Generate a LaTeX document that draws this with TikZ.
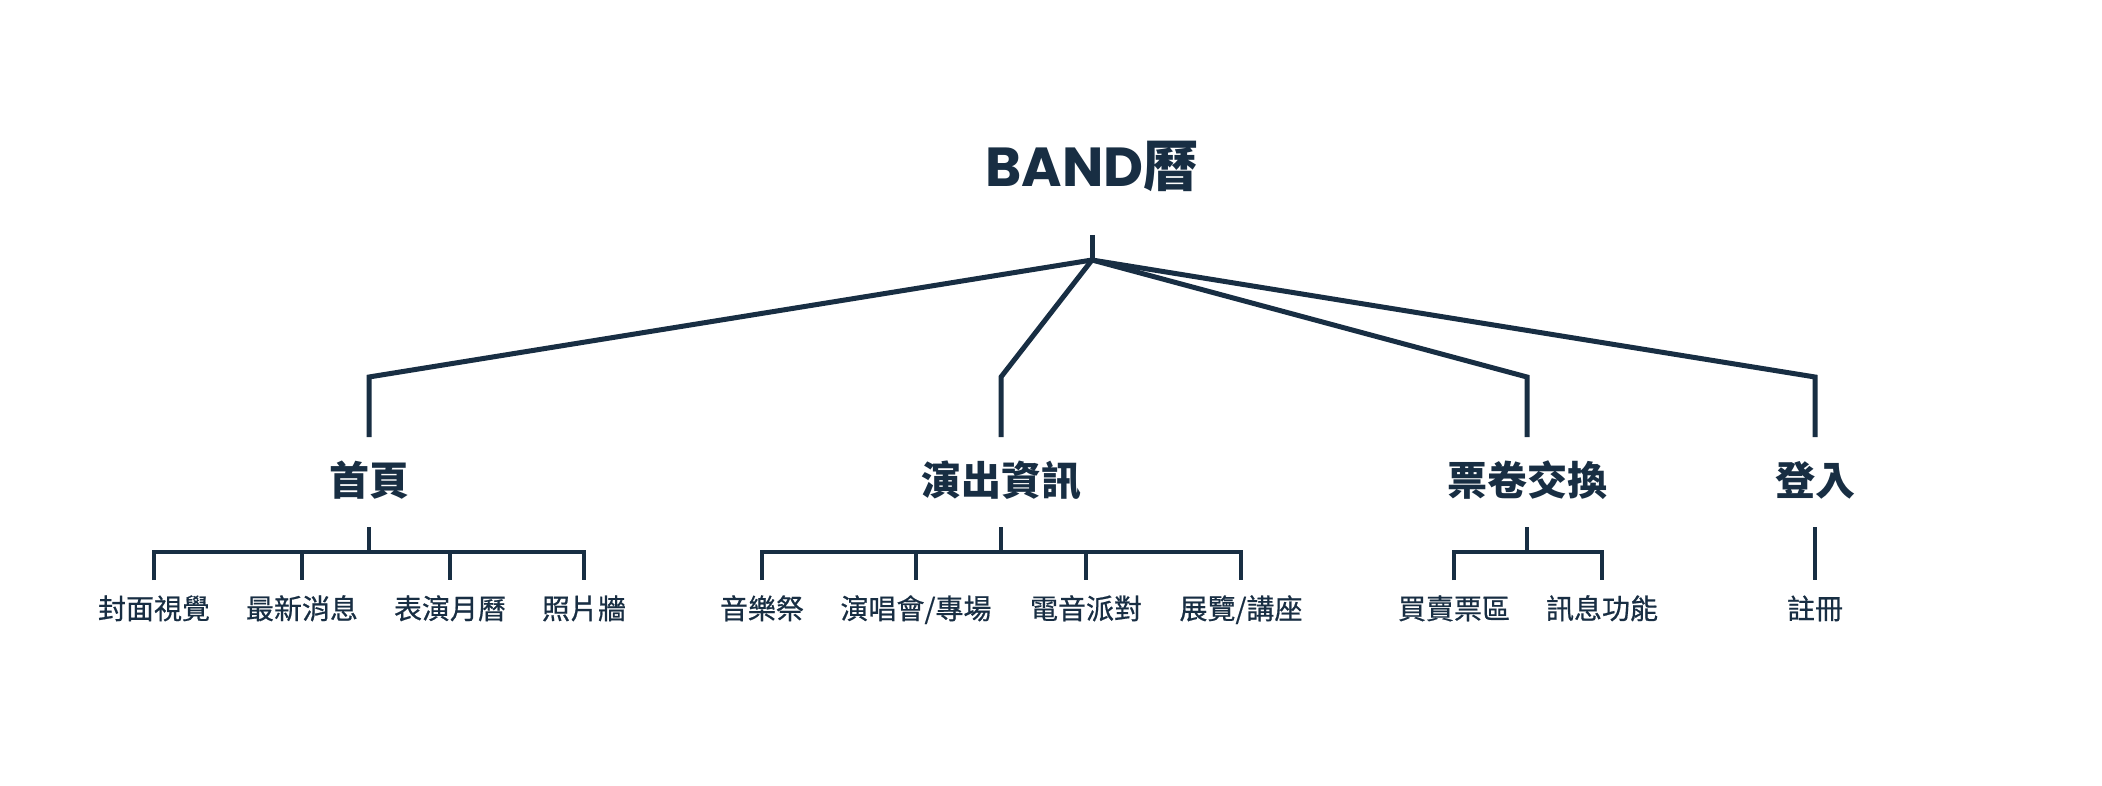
\documentclass[tikz,border=0pt]{standalone}
\usepackage{fontspec}
\setmainfont{Noto Sans CJK TC}
\newfontfamily\pop{Poppins}
\newfontfamily\leaffont[FakeBold=0.6]{Noto Sans CJK TC}
\definecolor{navy}{HTML}{182E43}
\begin{document}
\begin{tikzpicture}[x=1pt,y=-1pt,
  conn/.style={draw=navy, line width=5pt, line join=miter},
  subconn/.style={draw=navy, line width=4.3pt, line join=miter},
  titletext/.style={font=\fontsize{55}{60}\selectfont\bfseries, text=navy, inner sep=0pt, anchor=base},
  secttext/.style={font=\fontsize{40}{44}\selectfont\bfseries, text=navy, inner sep=0pt, anchor=base},
  leaftext/.style={font=\leaffont\fontsize{28}{32}\selectfont, text=navy, inner sep=0pt, anchor=base}]
\fill[white] (0,0) rectangle (2102,786);
\useasboundingbox (0,0) rectangle (2102,786);

% root
\node[titletext] (root) at (1092,187) {{\pop BAND}曆};
\coordinate (rs) at (1092,235);
\coordinate (apex) at (1092,260);

% sections
\node[secttext] (home) at (369,495) {首頁};
\node[secttext] (show) at (1001,495) {演出資訊};
\node[secttext] (ticket) at (1527,495) {票卷交換};
\node[secttext] (login) at (1815,495) {登入};

\coordinate (homeC) at (369,377);   \coordinate (homeB) at (369,437);
\coordinate (showC) at (1001,377);  \coordinate (showB) at (1001,437);
\coordinate (ticketC) at (1527,377);\coordinate (ticketB) at (1527,437);
\coordinate (loginC) at (1815,377); \coordinate (loginB) at (1815,437);

\draw[conn] (rs) -- (apex);
\draw[conn] (apex) -- (homeC) -- (homeB);
\draw[conn] (apex) -- (showC) -- (showB);
\draw[conn] (apex) -- (ticketC) -- (ticketB);
\draw[conn] (apex) -- (loginC) -- (loginB);

% leaves
\node[leaftext] (h1) at (154,619) {封面視覺};
\node[leaftext] (h2) at (302,619) {最新消息};
\node[leaftext] (h3) at (450,619) {表演月曆};
\node[leaftext] (h4) at (584,619) {照片牆};

\node[leaftext] (s1) at (762,619) {音樂祭};
\node[leaftext] (s2) at (916,619) {演唱會/專場};
\node[leaftext] (s3) at (1086,619) {電音派對};
\node[leaftext] (s4) at (1241,619) {展覽/講座};

\node[leaftext] (t1) at (1454,619) {買賣票區};
\node[leaftext] (t2) at (1602,619) {訊息功能};

\node[leaftext] (g1) at (1815,619) {註冊};

% sub connectors: home
\coordinate (homeS) at (369,527); \coordinate (homeBar) at (369,552);
\coordinate (h1T) at (154,580); \coordinate (h1B) at (154,552);
\coordinate (h2T) at (302,580); \coordinate (h2B) at (302,552);
\coordinate (h3T) at (450,580); \coordinate (h3B) at (450,552);
\coordinate (h4T) at (584,580); \coordinate (h4B) at (584,552);
\draw[subconn] (homeS) -- (homeBar);
\draw[subconn] (h1T) -- (h1B) -- (h4B) -- (h4T);
\draw[subconn] (h2B) -- (h2T);
\draw[subconn] (h3B) -- (h3T);

% show
\coordinate (showS) at (1001,527); \coordinate (showBar) at (1001,552);
\coordinate (s1T) at (762,580); \coordinate (s1B) at (762,552);
\coordinate (s2T) at (916,580); \coordinate (s2B) at (916,552);
\coordinate (s3T) at (1086,580); \coordinate (s3B) at (1086,552);
\coordinate (s4T) at (1241,580); \coordinate (s4B) at (1241,552);
\draw[subconn] (showS) -- (showBar);
\draw[subconn] (s1T) -- (s1B) -- (s4B) -- (s4T);
\draw[subconn] (s2B) -- (s2T);
\draw[subconn] (s3B) -- (s3T);

% ticket
\coordinate (ticketS) at (1527,527); \coordinate (ticketBar) at (1527,552);
\coordinate (t1T) at (1454,580); \coordinate (t1B) at (1454,552);
\coordinate (t2T) at (1602,580); \coordinate (t2B) at (1602,552);
\draw[subconn] (ticketS) -- (ticketBar);
\draw[subconn] (t1T) -- (t1B) -- (t2B) -- (t2T);

% login
\coordinate (loginS) at (1815,527); \coordinate (g1T) at (1815,580);
\draw[subconn] (loginS) -- (g1T);
\end{tikzpicture}
\end{document}
